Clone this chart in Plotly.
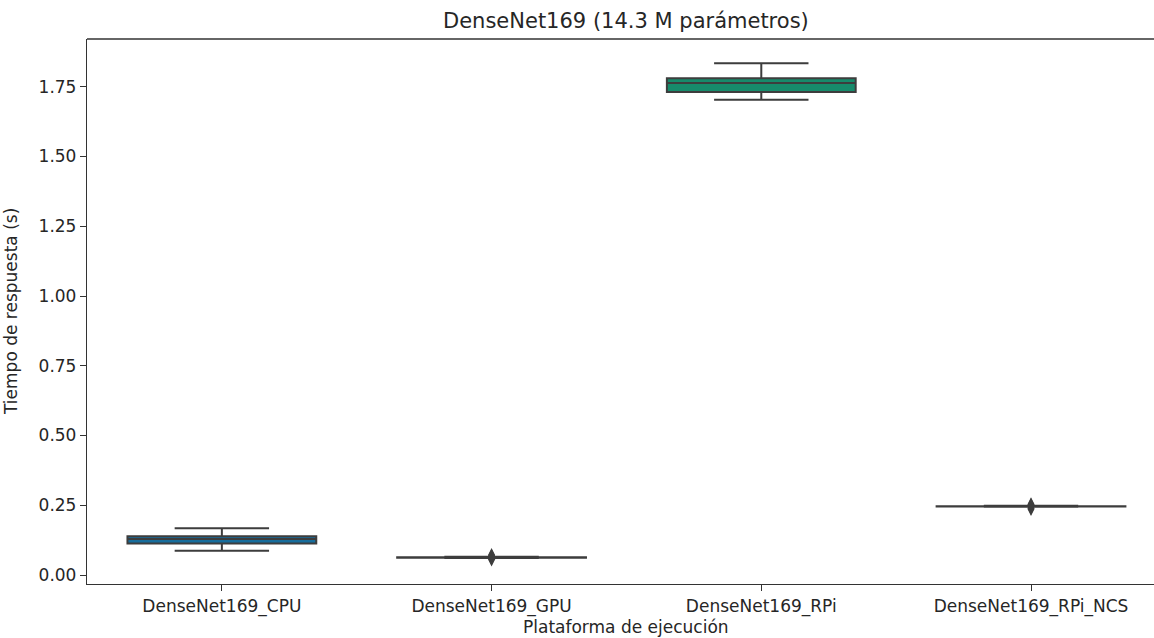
import plotly.graph_objects as go

# Response-time summary per execution platform (seconds)
platforms = ["DenseNet169_CPU", "DenseNet169_GPU", "DenseNet169_RPi", "DenseNet169_RPi_NCS"]
lower_whisker = [0.087, 0.061, 1.703, 0.245]
q1 = [0.113, 0.062, 1.731, 0.246]
median = [0.129, 0.063, 1.763, 0.2465]
q3 = [0.139, 0.064, 1.780, 0.247]
upper_whisker = [0.168, 0.066, 1.834, 0.248]
outliers = [[], [0.056, 0.059, 0.069, 0.072], [], [0.237, 0.240, 0.251, 0.254]]

box_colors = ["#176d9c", "#d1913c", "#168b6b", "#c0622a"]
edge = "#3d3d3d"
text_color = "#262626"
font_family = "DejaVu Sans"

positions = list(range(len(platforms)))

fig = go.Figure()
for i, name in enumerate(platforms):
    fig.add_trace(go.Box(
        x=[positions[i]],
        q1=[q1[i]], median=[median[i]], q3=[q3[i]],
        lowerfence=[lower_whisker[i]], upperfence=[upper_whisker[i]],
        width=0.7, whiskerwidth=0.5,
        fillcolor=box_colors[i],
        line=dict(color=edge, width=2),
        boxpoints=False, hoverinfo="skip", showlegend=False,
    ))
    if outliers[i]:
        fig.add_trace(go.Scatter(
            x=[positions[i]] * len(outliers[i]), y=outliers[i],
            mode="markers",
            marker=dict(symbol="diamond-tall", size=10, color=edge,
                        line=dict(width=0)),
            hoverinfo="skip", showlegend=False,
        ))

axis_common = dict(
    showgrid=False, zeroline=False,
    showline=True, linecolor="#333333", linewidth=1.3,
    ticks="outside", ticklen=6, tickwidth=1.3, tickcolor="#333333",
    tickfont=dict(family=font_family, size=17, color=text_color),
)

fig.update_layout(
    width=1154, height=638,
    margin=dict(l=87, r=0, t=39, b=54),
    paper_bgcolor="white", plot_bgcolor="white",
    boxmode="overlay",
    xaxis=dict(axis_common, range=[-0.5, 3.456], tickvals=positions,
               ticktext=platforms),
    yaxis=dict(axis_common, range=[-0.032, 1.921],
               tickvals=[0, 0.25, 0.5, 0.75, 1.0, 1.25, 1.5, 1.75],
               tickformat=".2f"),
    shapes=[dict(type="line", xref="paper", yref="paper", x0=0, x1=1,
                 y0=1, y1=1, line=dict(color="#333333", width=1.3))],
    annotations=[
        dict(text="DenseNet169 (14.3 M parámetros)", xref="paper", yref="paper",
             x=0.5056, y=1, yanchor="bottom", xanchor="center", yshift=4,
             showarrow=False, font=dict(family=font_family, size=21, color=text_color)),
        dict(text="Plataforma de ejecución", xref="paper", yref="paper",
             x=0.5056, y=0, yanchor="top", xanchor="center", yshift=-31,
             showarrow=False, font=dict(family=font_family, size=17, color=text_color)),
        dict(text="Tiempo de respuesta (s)", xref="paper", yref="paper",
             x=-0.0717, y=0.5, xanchor="center", yanchor="middle", textangle=-90,
             showarrow=False, font=dict(family=font_family, size=17, color=text_color)),
    ],
)

fig.write_html("out.html")
